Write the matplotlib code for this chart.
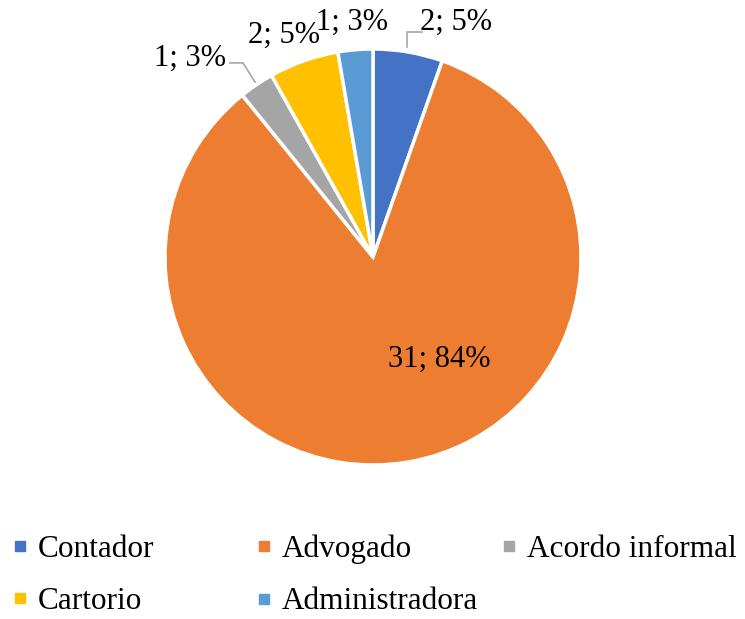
import matplotlib
matplotlib.use("Agg")
import matplotlib.pyplot as plt
from matplotlib.lines import Line2D

plt.rcParams['font.family'] = ['Liberation Serif', 'DejaVu Serif']

categories = ["Contador", "Advogado", "Acordo informal", "Cartorio", "Administradora"]
values = [2, 31, 1, 2, 1]
colors = ["#4472C4", "#ED7D31", "#A5A5A5", "#FFC000", "#5B9BD5"]

total = sum(values)
labels = ["%d; %d%%" % (v, round(100. * v / total)) for v in values]

# label positions (data coords, pie radius = 1)
label_pos = [(0.40, 1.13), (0.32, -0.49), (-0.88, 0.955), (-0.43, 1.065), (-0.10, 1.13)]
# leader lines for the two labels that sit off the wedge
leaders = {0: [(0.163, 1.01), (0.163, 1.083), (0.235, 1.083)],
           2: [(-0.567, 0.841), (-0.625, 0.933), (-0.688, 0.933)]}

fig = plt.figure(figsize=(7.45, 6.19), dpi=100)
ax = fig.add_axes([165/745., 1 - 465/619., 416/745., 416/619.])

wedges, _ = ax.pie(values, colors=colors, startangle=90, counterclock=False,
                   radius=1, wedgeprops=dict(edgecolor='white', linewidth=2.5))
ax.set_xlim(-1, 1)
ax.set_ylim(-1, 1)
ax.set_aspect('equal')
ax.axis('off')

for i, lab in enumerate(labels):
    x, y = label_pos[i]
    ax.text(x, y, lab, ha='center', va='center', fontsize=22, color='black')
    if i in leaders:
        xs = [p[0] for p in leaders[i]]
        ys = [p[1] for p in leaders[i]]
        ax.plot(xs, ys, color='#A6A6A6', lw=1.2, clip_on=False)

# legend: three equal-width columns
order = [[0, 3], [1, 4], [2]]
col_x = [11/745., 255/745., 500/745.]
for c, idx in enumerate(order):
    handles = [Line2D([], [], marker='s', linestyle='', markersize=7.5,
                      color=colors[k]) for k in idx]
    leg = fig.legend(handles, [categories[k] for k in idx], loc='upper left',
                     bbox_to_anchor=(col_x[c], 0.136), frameon=False,
                     fontsize=22.5, handlelength=0.6, handletextpad=0.25,
                     borderpad=0, borderaxespad=0, labelspacing=0.74)

fig.savefig("out.png", dpi=100)
